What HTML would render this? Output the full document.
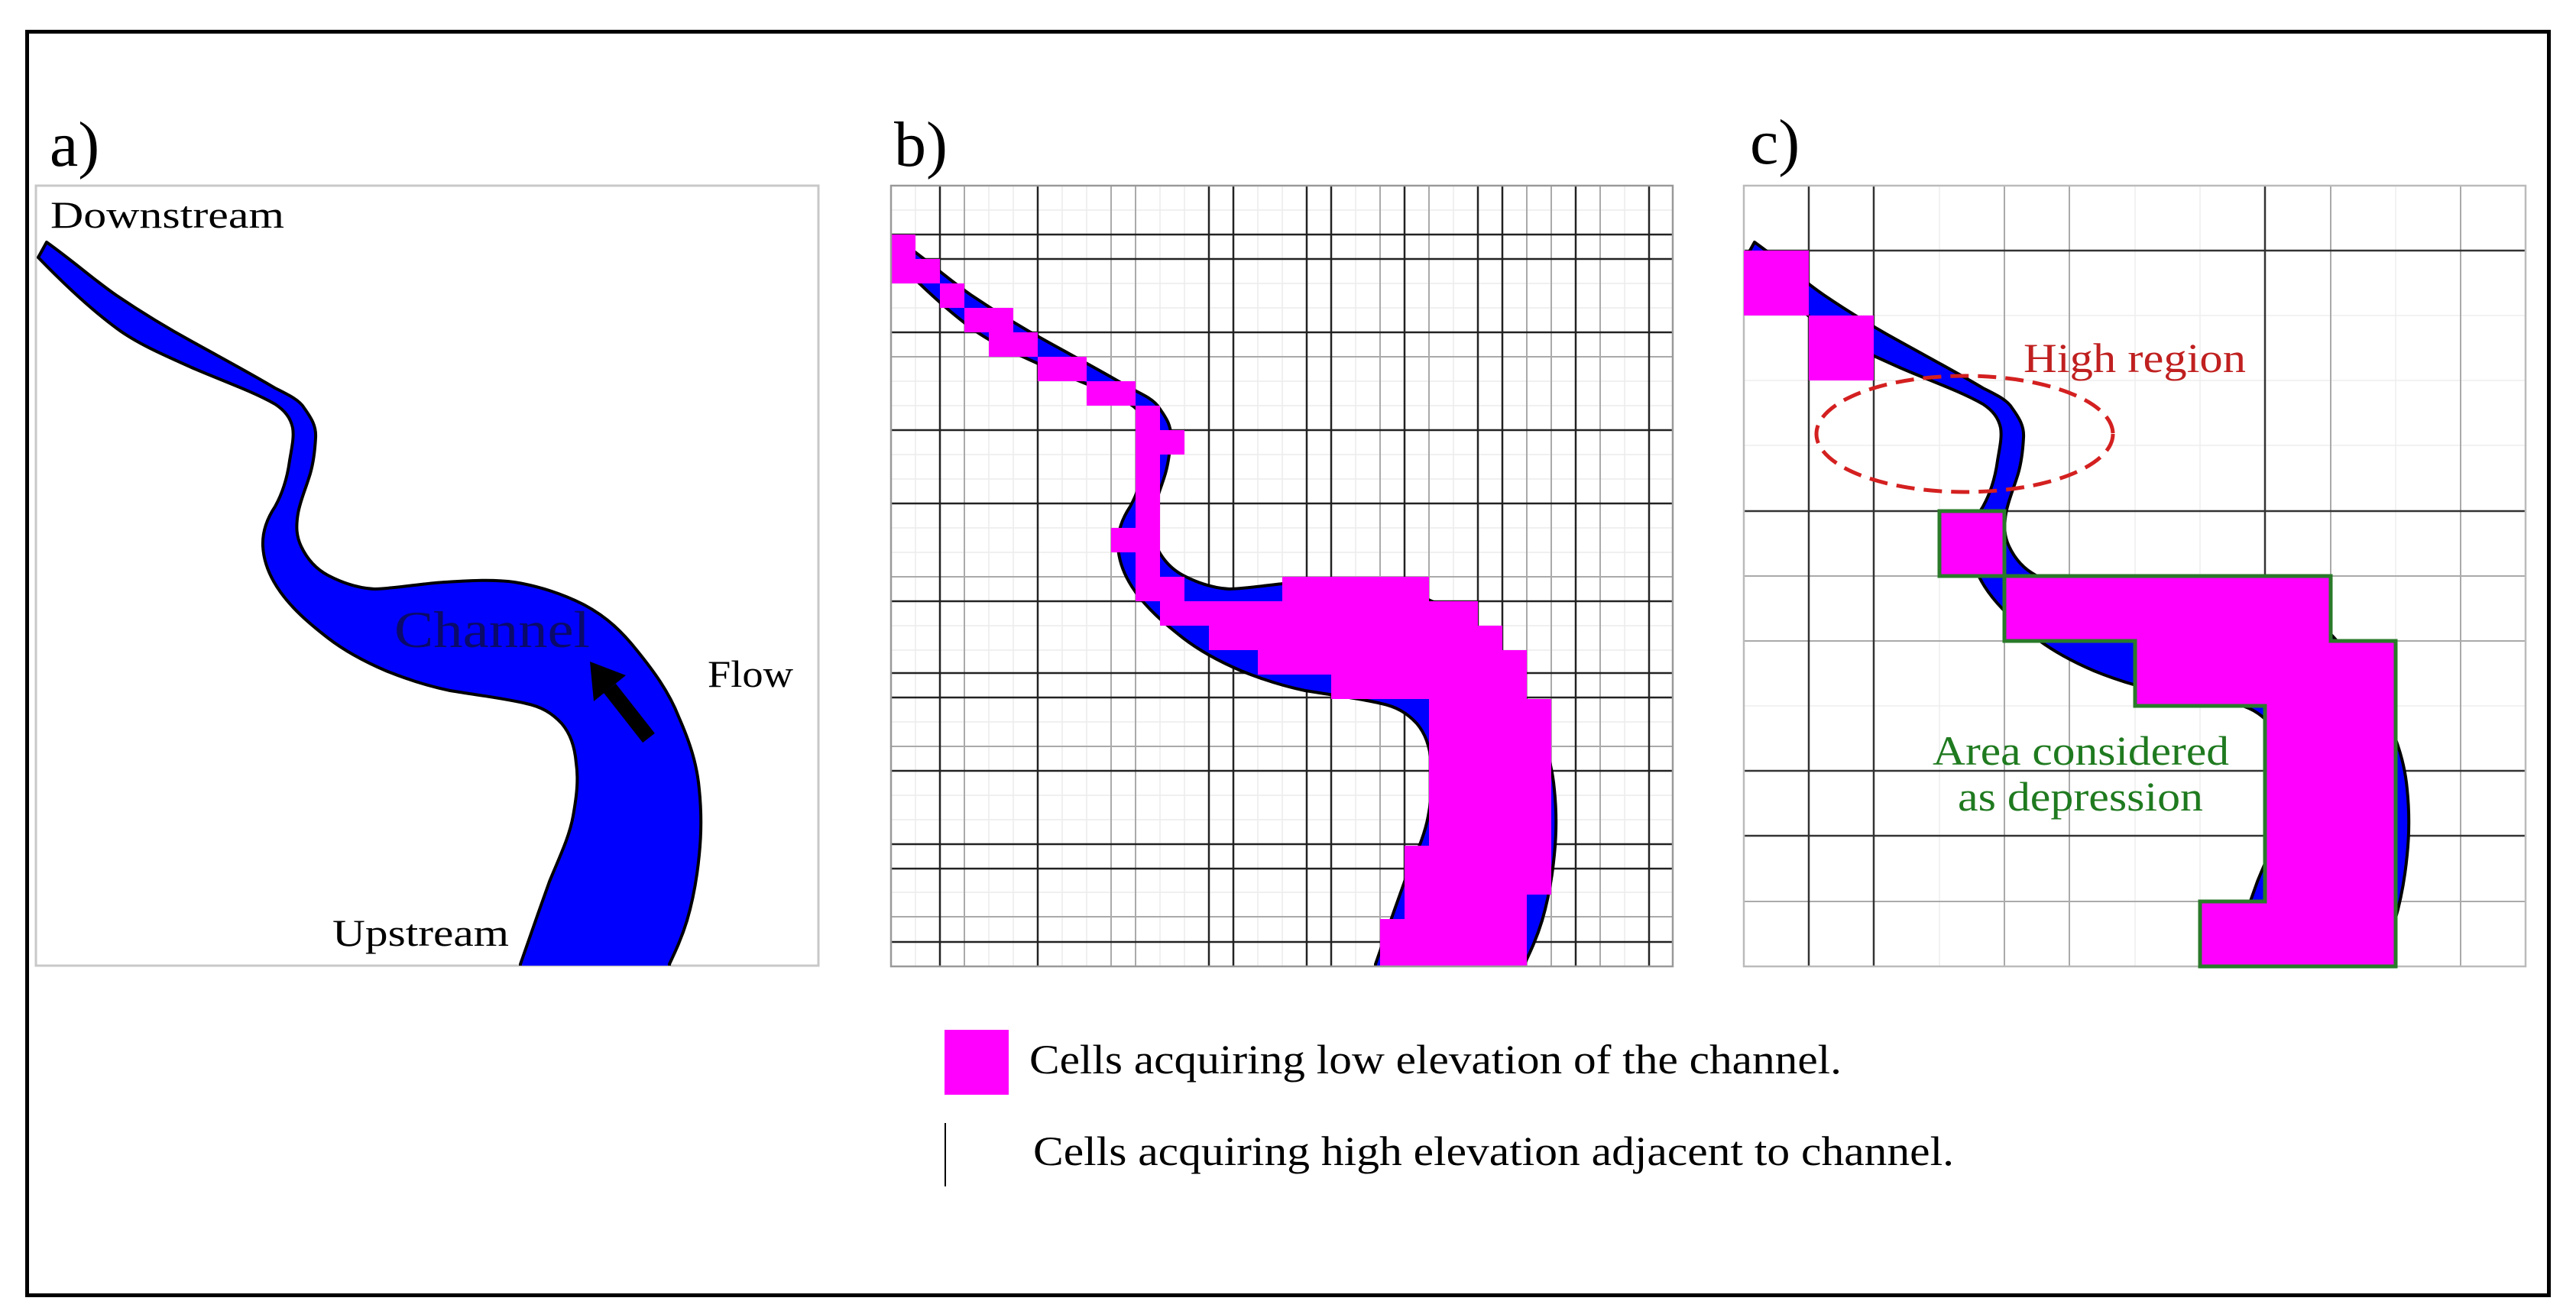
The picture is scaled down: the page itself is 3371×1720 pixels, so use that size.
<!DOCTYPE html>
<html><head><meta charset="utf-8"><style>
html,body{margin:0;padding:0;background:#fff;}
svg{display:block;}
text{font-family:"Liberation Serif",serif;}
</style></head><body>
<svg width="3371" height="1720" viewBox="0 0 3371 1720" xmlns="http://www.w3.org/2000/svg">
<defs>
<clipPath id="ca"><rect x="47" y="243" width="1024" height="1021"/></clipPath>
<clipPath id="cb"><rect x="1166" y="243" width="1023" height="1022"/></clipPath>
<clipPath id="cc"><rect x="2282" y="243" width="1023" height="1022"/></clipPath>
<path id="river" d="M61,317 C100,345 125,368 153,387 C190,412 220,430 253,448 C300,474 330,490 360,508 C380,518 392,524 398,534 C408,548 414,558 413,573 C412,592 410,606 406,620 C400,640 393,655 390,672 C387,690 388,702 394,715 C402,732 414,745 429,753 C450,764 470,770 490,771 C520,770 550,764 582,762 C615,760 645,758 673,762 C705,767 738,778 765,792 C795,808 815,828 834,852 C855,878 875,905 888,938 C903,972 912,1000 915,1033 C918,1062 918,1090 915,1119 C912,1150 907,1178 899,1205 C892,1228 884,1245 876,1262 L876,1290 L681,1290 L681,1262 C694,1225 706,1190 719,1154 C732,1122 745,1096 750,1068 C755,1040 757,1020 754,999 C752,976 746,960 735,947 C722,933 708,925 689,921 C660,914 625,910 589,904 C560,898 532,889 505,878 C477,866 451,852 429,835 C402,814 382,796 367,775 C352,754 345,735 344,715 C343,695 350,678 360,663 C370,645 376,625 379,603 C382,585 385,572 383,560 C380,546 372,537 360,529 C330,512 290,498 253,482 C215,465 180,450 153,430 C115,402 80,368 50,337 Z" fill="#0000ff" stroke="#000" stroke-width="4" stroke-linejoin="round"/>
</defs>
<rect x="0" y="0" width="3371" height="1720" fill="#fff"/>
<rect x="35.5" y="41.5" width="3300" height="1654" fill="none" stroke="#000" stroke-width="5"/>

<text x="65" y="217" font-size="84">a)</text>
<text x="1170" y="217" font-size="84">b)</text>
<text x="2290" y="214" font-size="84">c)</text>

<!-- PANEL A -->
<rect x="47" y="243" width="1024" height="1021" fill="none" stroke="#c8c8c8" stroke-width="3"/>
<g clip-path="url(#ca)"><use href="#river"/></g>
<text x="66" y="298" font-size="50" textLength="306" lengthAdjust="spacingAndGlyphs">Downstream</text>
<text x="516" y="847" font-size="68" fill="#0a0a6a" textLength="256" lengthAdjust="spacingAndGlyphs">Channel</text>
<text x="926" y="899" font-size="50" textLength="112" lengthAdjust="spacingAndGlyphs">Flow</text>
<text x="435" y="1238" font-size="50" textLength="231" lengthAdjust="spacingAndGlyphs">Upstream</text>
<line x1="849" y1="966" x2="798" y2="901" stroke="#000" stroke-width="20"/>
<polygon points="772,866 819,884 777,918" fill="#000"/>

<!-- PANEL B grid -->
<g stroke="#ececec" stroke-width="1.5">
<line x1="1198" y1="243" x2="1198" y2="1265"/><line x1="1294" y1="243" x2="1294" y2="1265"/><line x1="1326" y1="243" x2="1326" y2="1265"/><line x1="1390" y1="243" x2="1390" y2="1265"/><line x1="1422" y1="243" x2="1422" y2="1265"/><line x1="1518" y1="243" x2="1518" y2="1265"/><line x1="1550" y1="243" x2="1550" y2="1265"/><line x1="1646" y1="243" x2="1646" y2="1265"/><line x1="1678" y1="243" x2="1678" y2="1265"/><line x1="1774" y1="243" x2="1774" y2="1265"/><line x1="1902" y1="243" x2="1902" y2="1265"/><line x1="2126" y1="243" x2="2126" y2="1265"/>
<line x1="1166" y1="275" x2="2189" y2="275"/><line x1="1166" y1="371" x2="2189" y2="371"/><line x1="1166" y1="403" x2="2189" y2="403"/><line x1="1166" y1="499" x2="2189" y2="499"/><line x1="1166" y1="531" x2="2189" y2="531"/><line x1="1166" y1="595" x2="2189" y2="595"/><line x1="1166" y1="627" x2="2189" y2="627"/><line x1="1166" y1="691" x2="2189" y2="691"/><line x1="1166" y1="723" x2="2189" y2="723"/><line x1="1166" y1="819" x2="2189" y2="819"/><line x1="1166" y1="851" x2="2189" y2="851"/><line x1="1166" y1="945" x2="2189" y2="945"/><line x1="1166" y1="1041" x2="2189" y2="1041"/><line x1="1166" y1="1073" x2="2189" y2="1073"/><line x1="1166" y1="1168" x2="2189" y2="1168"/>
</g>
<g stroke="#aaa" stroke-width="2">
<line x1="1262" y1="243" x2="1262" y2="1265"/><line x1="1454" y1="243" x2="1454" y2="1265"/><line x1="1486" y1="243" x2="1486" y2="1265"/><line x1="1806" y1="243" x2="1806" y2="1265"/><line x1="1870" y1="243" x2="1870" y2="1265"/><line x1="1998" y1="243" x2="1998" y2="1265"/><line x1="2030" y1="243" x2="2030" y2="1265"/><line x1="2094" y1="243" x2="2094" y2="1265"/>
<line x1="1166" y1="467" x2="2189" y2="467"/><line x1="1166" y1="755" x2="2189" y2="755"/><line x1="1166" y1="977" x2="2189" y2="977"/><line x1="1166" y1="1200" x2="2189" y2="1200"/>
</g>
<g stroke="#222" stroke-width="2.5">
<line x1="1230" y1="243" x2="1230" y2="1265"/><line x1="1358" y1="243" x2="1358" y2="1265"/><line x1="1582" y1="243" x2="1582" y2="1265"/><line x1="1614" y1="243" x2="1614" y2="1265"/><line x1="1710" y1="243" x2="1710" y2="1265"/><line x1="1742" y1="243" x2="1742" y2="1265"/><line x1="1838" y1="243" x2="1838" y2="1265"/><line x1="1934" y1="243" x2="1934" y2="1265"/><line x1="1966" y1="243" x2="1966" y2="1265"/><line x1="2062" y1="243" x2="2062" y2="1265"/><line x1="2158" y1="243" x2="2158" y2="1265"/>
<line x1="1166" y1="307" x2="2189" y2="307"/><line x1="1166" y1="339" x2="2189" y2="339"/><line x1="1166" y1="435" x2="2189" y2="435"/><line x1="1166" y1="563" x2="2189" y2="563"/><line x1="1166" y1="659" x2="2189" y2="659"/><line x1="1166" y1="787" x2="2189" y2="787"/><line x1="1166" y1="881" x2="2189" y2="881"/><line x1="1166" y1="913" x2="2189" y2="913"/><line x1="1166" y1="1009" x2="2189" y2="1009"/><line x1="1166" y1="1105" x2="2189" y2="1105"/><line x1="1166" y1="1137" x2="2189" y2="1137"/><line x1="1166" y1="1233" x2="2189" y2="1233"/>
</g>
<g clip-path="url(#cb)"><g transform="translate(1119,0)"><use href="#river"/></g></g>
<g fill="#ff00ff">
<rect x="1166" y="307" width="32" height="32"/>
<rect x="1166" y="339" width="64" height="32"/>
<rect x="1230" y="371" width="32" height="32"/>
<rect x="1262" y="403" width="64" height="32"/>
<rect x="1294" y="435" width="64" height="32"/>
<rect x="1358" y="467" width="64" height="32"/>
<rect x="1422" y="499" width="64" height="32"/>
<rect x="1486" y="531" width="32" height="32"/>
<rect x="1486" y="563" width="64" height="32"/>
<rect x="1486" y="595" width="32" height="96"/>
<rect x="1454" y="691" width="64" height="32"/>
<rect x="1486" y="723" width="32" height="32"/>
<rect x="1486" y="755" width="64" height="32"/>
<rect x="1678" y="755" width="192" height="32"/>
<rect x="1518" y="787" width="416" height="32"/>
<rect x="1582" y="819" width="384" height="32"/>
<rect x="1646" y="851" width="352" height="32"/>
<rect x="1742" y="883" width="256" height="32"/>
<rect x="1870" y="915" width="160" height="192"/>
<rect x="1838" y="1107" width="192" height="64"/>
<rect x="1838" y="1171" width="160" height="32"/>
<rect x="1806" y="1203" width="192" height="62"/>
</g>
<rect x="1166" y="243" width="1023" height="1022" fill="none" stroke="#999" stroke-width="2.5"/>

<!-- PANEL C grid -->
<g stroke="#eee" stroke-width="1.5">
<line x1="2538" y1="243" x2="2538" y2="1265"/><line x1="2794" y1="243" x2="2794" y2="1265"/><line x1="2879" y1="243" x2="2879" y2="1265"/><line x1="3135" y1="243" x2="3135" y2="1265"/>
<line x1="2282" y1="413" x2="3305" y2="413"/><line x1="2282" y1="498" x2="3305" y2="498"/><line x1="2282" y1="583" x2="3305" y2="583"/><line x1="2282" y1="924" x2="3305" y2="924"/>
</g>
<g stroke="#aaa" stroke-width="2">
<line x1="2623" y1="243" x2="2623" y2="1265"/><line x1="2708" y1="243" x2="2708" y2="1265"/><line x1="3050" y1="243" x2="3050" y2="1265"/><line x1="3220" y1="243" x2="3220" y2="1265"/>
<line x1="2282" y1="754" x2="3305" y2="754"/><line x1="2282" y1="839" x2="3305" y2="839"/><line x1="2282" y1="1180" x2="3305" y2="1180"/>
</g>
<g stroke="#333" stroke-width="2.5">
<line x1="2367" y1="243" x2="2367" y2="1265"/><line x1="2452" y1="243" x2="2452" y2="1265"/><line x1="2964" y1="243" x2="2964" y2="1265"/>
<line x1="2282" y1="328" x2="3305" y2="328"/><line x1="2282" y1="669" x2="3305" y2="669"/><line x1="2282" y1="1009" x2="3305" y2="1009"/><line x1="2282" y1="1094" x2="3305" y2="1094"/>
</g>
<g clip-path="url(#cc)"><g transform="translate(2235,0)"><use href="#river"/></g></g>
<rect x="2282" y="243" width="1023" height="1022" fill="none" stroke="#bbb" stroke-width="2.5"/>
<rect x="2282" y="328" width="85" height="85" fill="#ff00ff"/>
<rect x="2367" y="413" width="85" height="85" fill="#ff00ff"/>
<g fill="#ff00ff" stroke="#2a7a2a" stroke-width="5" stroke-linejoin="miter">
<rect x="2538" y="669" width="85" height="85"/>
<polygon points="2623,754 3050,754 3050,839 3135,839 3135,1265 2879,1265 2879,1180 2964,1180 2964,924 2794,924 2794,839 2623,839"/>
</g>
<ellipse cx="2571" cy="568" rx="194" ry="76" fill="none" stroke="#d42020" stroke-width="5" stroke-dasharray="24,12"/>
<text x="2648" y="487" font-size="54" fill="#c02020" textLength="291" lengthAdjust="spacingAndGlyphs">High region</text>
<text x="2529" y="1001" font-size="54" fill="#1f7a1f" textLength="388" lengthAdjust="spacingAndGlyphs">Area considered</text>
<text x="2562" y="1061" font-size="54" fill="#1f7a1f" textLength="321" lengthAdjust="spacingAndGlyphs">as depression</text>

<!-- legend -->
<rect x="1236" y="1348" width="84" height="85" fill="#ff00ff"/>
<text x="1347" y="1405" font-size="54" textLength="1063" lengthAdjust="spacingAndGlyphs">Cells acquiring low elevation of the channel.</text>
<line x1="1237" y1="1470" x2="1237" y2="1553" stroke="#000" stroke-width="2"/>
<text x="1352" y="1525" font-size="54" textLength="1205" lengthAdjust="spacingAndGlyphs">Cells acquiring high elevation adjacent to channel.</text>
</svg>
</body></html>
